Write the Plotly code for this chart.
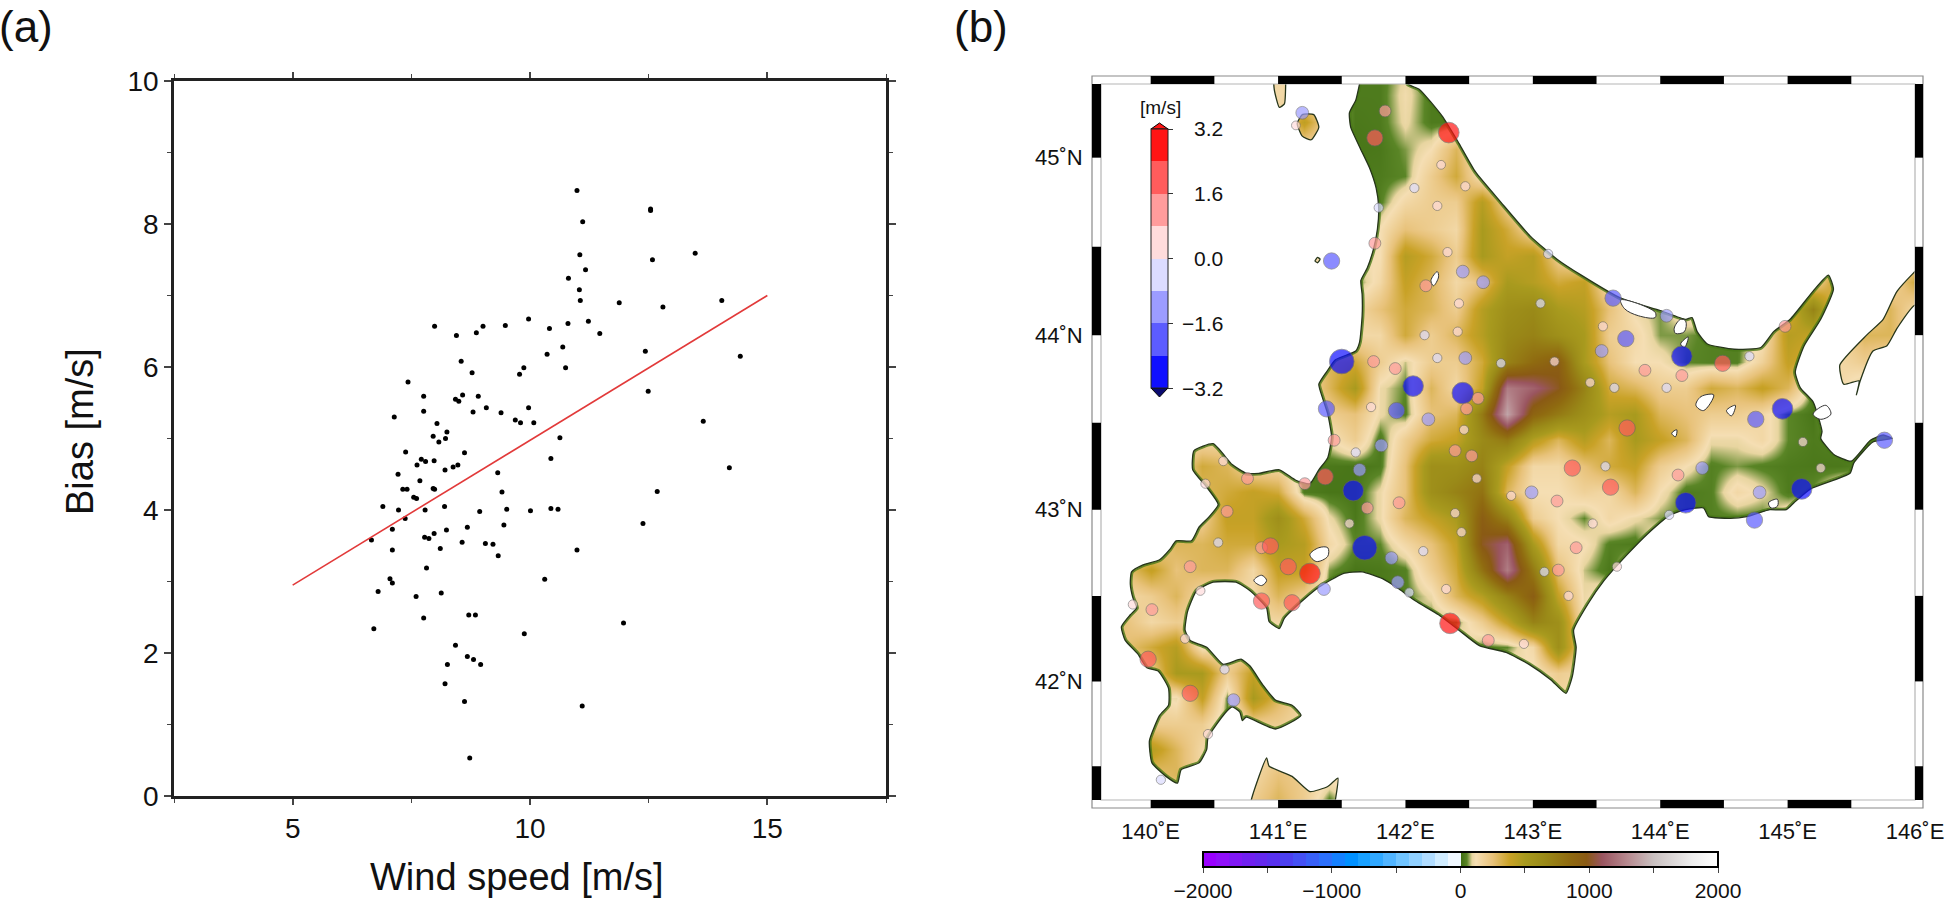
import math
import plotly.graph_objects as go

W, H = 1946, 903
O = 150

# ---------- panel (a)
WIND = [10.99,12.54,12.54,11.11,11.05,12.58,13.48,11.17,10.81,11.04,11.06,11.88,12.80,14.04,9.97,9.48,9.01,7.99,11.23,10.80,10.41,8.87,8.45,11.47,10.69,12.43,10.36,14.43,8.55,9.87,10.75,8.78,9.78,7.43,12.49,7.76,8.58,8.91,8.43,8.50,9.08,9.97,7.76,8.80,9.39,7.14,9.69,9.80,10.08,13.65,8.04,8.25,7.96,8.22,8.08,10.63,7.38,8.62,10.44,7.71,7.80,7.98,7.62,8.48,8.38,8.21,14.20,7.22,9.32,7.68,7.96,7.99,7.32,7.41,9.41,12.68,7.55,7.61,6.90,8.20,7.23,7.79,8.94,9.51,10.01,10.44,10.59,7.37,9.45,12.38,8.68,7.10,8.24,7.98,7.78,7.87,6.66,8.57,9.06,9.22,8.11,7.10,10.99,9.33,7.82,7.05,10.31,7.10,6.80,8.13,7.60,8.71,8.85,7.76,11.97,6.71,9.88,8.43,8.68,8.81,8.96,8.26,8.21,8.62,11.10,8.73]
BIAS = [8.47,8.19,8.21,8.03,7.57,7.50,7.59,7.36,7.24,7.08,6.93,6.90,6.84,6.93,6.67,6.58,6.57,6.57,6.64,6.61,6.54,6.48,6.44,6.47,6.28,6.22,6.18,6.15,6.08,5.99,5.99,5.92,5.90,5.79,5.66,5.59,5.61,5.59,5.55,5.52,5.43,5.43,5.38,5.37,5.36,5.30,5.26,5.22,5.22,5.24,5.21,5.09,5.03,5.00,4.95,5.01,4.81,4.80,4.72,4.71,4.68,4.69,4.63,4.63,4.60,4.56,4.59,4.50,4.52,4.41,4.30,4.29,4.29,4.29,4.25,4.26,4.18,4.16,4.05,4.05,4.00,4.00,3.98,4.01,3.99,4.02,4.01,3.88,3.79,3.81,3.76,3.73,3.72,3.67,3.62,3.60,3.58,3.55,3.53,3.52,3.46,3.44,3.44,3.36,3.19,3.04,3.03,2.98,2.86,2.84,2.79,2.53,2.53,2.49,2.42,2.34,2.27,2.11,1.95,1.91,1.84,1.84,1.57,1.32,1.26,0.53]
FIT_X = [5, 15]
FIT_Y = [2.95, 7.0]

# ---------- panel (b) stations
ST_LON = [141.84,141.76,142.34,141.19,141.14,142.28,142.07,142.47,141.79,142.25,141.76,142.33,141.42,142.45,142.16,142.61,142.42,142.15,142.41,142.25,142.47,142.75,141.50,141.75,141.92,142.06,142.45,142.57,142.48,141.38,141.73,141.93,142.18,142.46,141.44,
141.81,141.61,141.64,141.37,141.21,141.59,140.76,140.57,140.43,140.60,141.70,141.56,141.95,142.39,142.52,142.56,142.83,142.39,142.44,140.53,140.87,140.94,141.68,141.89,142.14,140.31,141.08,141.25,141.36,141.94,142.03,142.32,140.39,139.86,140.01,140.87,141.11,142.35,142.65,142.93,140.27,139.98,140.58,140.31,140.65,140.45,140.08,
143.74,143.31,143.57,143.61,142.99,143.19,143.47,143.34,143.09,143.20,143.66,143.28,144.14,144.33,144.20,144.07,144.78,144.74,145.11,145.12,145.26,145.76,
143.12,143.06,143.63,144.05,143.55,143.73,143.54,143.17,143.45,143.64,143.88,144.17,144.17,144.05,144.49,144.70,144.98,144.96,144.75]
ST_LAT = [45.26,45.11,45.14,45.25,45.18,44.96,44.83,44.84,44.72,44.73,44.52,44.47,44.42,44.36,44.28,44.30,44.18,44.00,44.02,43.87,43.87,43.84,43.85,43.85,43.81,43.71,43.67,43.64,43.58,43.58,43.59,43.57,43.52,43.46,43.40,
43.37,43.33,43.23,43.19,43.15,43.11,43.18,43.28,43.15,42.99,43.01,42.92,43.04,43.34,43.31,43.18,43.08,42.98,42.87,42.81,42.78,42.79,42.78,42.72,42.76,42.67,42.67,42.63,42.54,42.58,42.52,42.54,42.53,42.45,42.42,42.47,42.46,42.34,42.24,42.22,42.25,42.13,42.07,41.93,41.89,41.69,41.42,
43.47,43.24,43.25,43.13,43.10,43.05,42.92,42.78,42.64,42.65,42.67,42.50,43.20,43.24,43.04,42.97,43.10,42.94,43.12,43.39,43.24,43.40,
44.46,44.18,44.21,44.11,44.05,43.98,43.91,43.85,43.73,43.70,43.80,43.88,43.77,43.70,43.84,43.88,44.05,43.58,43.52]
ST_VAL = [1.0,2.0,3.0,-1.2,0.3,0.3,-0.4,0.4,-0.4,0.4,1.0,0.4,-2.0,-1.2,1.0,-1.2,0.4,-0.4,0.4,-0.4,-1.2,-0.4,-3.9,1.0,1.0,-3.0,-3.2,1.0,1.0,-2.0,0.4,-2.0,-1.2,0.4,1.0,
-1.2,-0.4,-1.2,2.0,1.0,-3.0,1.0,0.4,0.4,1.0,1.0,0.4,1.0,1.0,1.0,0.4,0.4,0.4,0.4,-0.4,1.0,2.0,-3.9,-1.2,-0.4,1.0,2.0,3.0,-1.2,-1.2,-0.4,0.4,0.4,0.4,1.0,2.0,2.0,3.0,1.0,0.4,0.4,2.0,-0.4,2.0,-1.2,0.4,-0.4,
2.0,2.0,-0.4,2.0,-1.2,1.0,0.4,1.0,-0.4,1.0,0.4,0.4,1.0,-1.2,-3.0,-0.4,-1.2,-2.0,-3.0,0.4,0.4,-2.0,
-0.4,-0.4,-2.0,-1.2,0.4,-2.0,-1.2,0.4,0.4,-0.4,1.0,-3.0,1.0,-0.4,2.0,-0.4,1.0,-3.0,-2.0]
DV_COLORS = ["#0f0fff","#5c5cff","#9c9cff","#dcdcff","#ffdcdc","#ff9c9c","#ff5c5c","#ff1414"]
DV_TICKS = [-3.2,-1.6,0,1.6,3.2]
DV_LABELS = ["\u22123.2","\u22121.6","0.0","1.6","3.2"]

# ---------- elevation grid (m), read from the shaded relief
GRID_LON = [139.6,139.8,140.0,140.2,140.4,140.6,140.8,141.0,141.2,141.4,141.6,141.8,142.0,142.2,142.4,142.6,142.8,143.0,143.2,143.4,143.6,143.8,144.0,144.2,144.4,144.6,144.8,145.0,145.2,145.4,145.6,145.8,146.0]
GRID_LAT = [45.5,45.35,45.2,45.05,44.9,44.75,44.6,44.45,44.3,44.15,44.0,43.85,43.7,43.55,43.4,43.25,43.1,42.95,42.8,42.65,42.5,42.35,42.2,42.05,41.9,41.75,41.6,41.45,41.3]
ELEV = [
[O,O,O,O,O,O,O,O,O,O,30,30,90,30,30,O,O,O,O,O,O,O,O,O,O,O,O,O,O,O,O,O,O],
[O,O,O,O,O,O,O,O,O,O,30,30,110,30,30,O,O,O,O,O,O,O,O,O,O,O,O,O,O,O,O,O,O],
[O,O,O,O,O,O,O,O,420,O,25,30,100,30,30,O,O,O,O,O,O,O,O,O,O,O,O,O,O,O,O,O,O],
[O,O,O,O,O,O,O,O,O,O,20,25,60,120,300,80,O,O,O,O,O,O,O,O,O,O,O,O,O,O,O,O,O],
[O,O,O,O,O,O,O,O,O,O,30,30,50,200,350,100,40,O,O,O,O,O,O,O,O,O,O,O,O,O,O,O,O],
[O,O,O,O,O,O,O,O,O,O,40,40,150,200,200,450,180,60,O,O,O,O,O,O,O,O,O,O,O,O,O,O,O],
[O,O,O,O,O,O,O,O,O,O,100,120,250,200,150,500,350,150,60,O,O,O,O,O,O,O,O,O,O,O,O,O,O],
[O,O,O,O,O,O,O,O,O,O,120,120,450,350,200,500,400,450,200,80,O,O,O,O,O,O,O,O,O,O,O,O,O],
[O,O,O,O,O,O,O,O,O,O,40,150,400,300,150,250,500,450,350,400,120,50,O,O,O,O,O,O,O,450,O,O,350],
[O,O,O,O,O,O,O,O,O,O,150,250,350,300,200,450,600,650,500,450,250,100,60,O,O,O,O,300,700,O,O,300,O],
[O,O,O,O,O,O,O,O,O,O,150,150,350,200,300,450,650,700,600,500,200,150,60,60,40,40,100,450,400,O,300,300,O],
[O,O,O,O,O,O,O,O,O,300,350,200,80,200,200,350,700,850,950,500,250,120,120,50,40,40,180,400,300,O,200,O,O],
[O,O,O,O,O,O,O,O,O,300,500,100,50,300,150,400,1250,1150,1000,700,350,300,200,200,350,300,400,300,40,O,40,O,O],
[O,O,O,O,O,O,O,O,O,200,250,100,40,250,300,750,1400,900,750,600,450,500,300,250,200,200,150,50,20,O,O,O,O],
[O,O,O,O,O,O,O,O,O,100,200,25,200,350,400,650,750,450,300,450,300,500,400,300,100,100,150,50,30,40,30,30,O],
[O,O,O,O,350,300,O,O,40,25,20,30,250,600,600,700,400,150,150,250,350,400,200,120,40,60,40,30,25,25,40,O,O],
[O,O,O,O,300,350,400,350,30,20,20,100,250,600,700,800,300,120,120,180,150,300,120,30,40,150,100,30,60,O,O,O,O],
[O,O,O,O,200,400,400,600,350,100,25,100,300,400,500,950,700,200,120,50,150,100,60,40,40,40,40,O,O,O,O,O,O],
[O,O,O,300,300,350,350,500,450,150,50,50,150,250,400,1000,1150,500,150,130,40,30,O,O,O,O,O,O,O,O,O,O,O],
[O,250,400,250,300,300,150,400,400,60,20,25,40,200,350,800,1250,750,250,80,25,O,O,O,O,O,O,O,O,O,O,O,O],
[O,150,200,300,150,O,O,300,200,30,30,30,40,100,300,450,700,950,400,100,O,O,O,O,O,O,O,O,O,O,O,O,O],
[O,250,150,200,O,O,O,O,O,O,O,O,O,40,50,200,400,700,600,100,O,O,O,O,O,O,O,O,O,O,O,O,O],
[O,250,350,450,100,O,O,O,O,O,O,O,O,O,O,40,50,150,600,150,O,O,O,O,O,O,O,O,O,O,O,O,O],
[O,O,200,500,500,200,400,O,O,O,O,O,O,O,O,O,O,100,200,O,O,O,O,O,O,O,O,O,O,O,O,O,O],
[O,O,O,100,400,50,500,300,O,O,O,O,O,O,O,O,O,O,O,O,O,O,O,O,O,O,O,O,O,O,O,O,O],
[O,O,200,200,200,40,200,200,O,O,O,O,O,O,O,O,O,O,O,O,O,O,O,O,O,O,O,O,O,O,O,O,O],
[O,O,450,300,150,O,O,O,O,O,O,O,O,O,O,O,O,O,O,O,O,O,O,O,O,O,O,O,O,O,O,O,O],
[O,O,250,300,O,O,O,250,200,O,O,O,O,O,O,O,O,O,O,O,O,O,O,O,O,O,O,O,O,O,O,O,O],
[O,O,O,O,O,O,200,300,200,40,O,O,O,O,O,O,O,O,O,O,O,O,O,O,O,O,O,O,O,O,O,O,O],
]
ELEV_TICKS = [-2000,-1500,-1000,-500,0,500,1000,1500,2000]
ELEV_LABELS = ["\u22122000","","\u22121000","","0","","1000","","2000"]
NEG_COLORS = ["#9a00ff","#9010fa","#8018f5","#7020f0","#6428ee","#5830ee","#4c40f0","#4450f4","#3860f8","#2c70fc","#1480ff","#0090ff","#18a0ff","#30a8ff","#50b4ff","#70c4ff","#90d0ff","#b0dcff","#d0ecff","#f0f8ff"]
POS_STOPS = [(0,"#3d6b0f"),(50,"#5a8526"),(90,"#e8d5a0"),(120,"#f5deb3"),(250,"#e8c27a"),(380,"#c9a227"),(500,"#a89a1e"),(650,"#9a8a18"),(850,"#8f6a10"),(980,"#8a5a14"),(1100,"#9a5560"),(1300,"#b78a90"),(1500,"#c9c0c0"),(1800,"#eeeeee"),(2000,"#ffffff")]

# ---------- coast and lakes (lon, lat)
HOKKAIDO = [(141.64,45.41),(141.61,45.32),(141.56,45.25),(141.57,45.17),(141.64,45.06),(141.72,44.94),(141.77,44.83),(141.79,44.72),(141.78,44.60),(141.75,44.49),(141.70,44.38),(141.65,44.31),(141.66,44.23),(141.66,44.11),(141.64,43.96),(141.61,43.91),(141.45,43.86),(141.38,43.79),(141.32,43.72),(141.35,43.64),(141.39,43.55),(141.42,43.42),(141.39,43.30),(141.32,43.23),(141.25,43.15),(141.14,43.17),(141.01,43.23),(140.85,43.21),(140.75,43.21),(140.64,43.26),(140.49,43.38),(140.34,43.34),(140.33,43.23),(140.44,43.13),(140.53,43.03),(140.46,42.96),(140.38,42.90),(140.32,42.82),(140.20,42.82),(140.15,42.77),(140.07,42.71),(139.94,42.68),(139.85,42.64),(139.84,42.57),(139.86,42.49),(139.89,42.43),(139.84,42.39),(139.77,42.32),(139.80,42.24),(139.90,42.16),(139.97,42.08),(140.06,42.06),(140.14,41.96),(140.14,41.86),(140.07,41.80),(139.99,41.65),(140.01,41.52),(140.12,41.44),(140.21,41.40),(140.24,41.48),(140.38,41.52),(140.44,41.60),(140.45,41.67),(140.58,41.81),(140.64,41.85),(140.70,41.82),(140.72,41.77),(140.75,41.79),(140.98,41.72),(141.18,41.80),(141.11,41.86),(140.98,41.89),(140.88,41.98),(140.78,42.09),(140.71,42.13),(140.57,42.10),(140.44,42.20),(140.31,42.24),(140.27,42.30),(140.29,42.41),(140.36,42.53),(140.49,42.58),(140.67,42.58),(140.78,42.53),(140.91,42.43),(140.93,42.35),(141.01,42.31),(141.05,42.37),(141.22,42.49),(141.32,42.55),(141.51,42.63),(141.66,42.64),(141.82,42.60),(141.95,42.54),(142.08,42.47),(142.26,42.39),(142.42,42.30),(142.58,42.21),(142.79,42.17),(142.97,42.10),(143.14,42.01),(143.26,41.93),(143.31,42.03),(143.34,42.20),(143.32,42.30),(143.43,42.45),(143.56,42.59),(143.74,42.74),(143.90,42.86),(144.08,42.97),(144.20,43.00),(144.34,43.01),(144.38,42.96),(144.55,42.95),(144.68,42.96),(144.81,42.99),(144.86,43.00),(144.99,43.00),(145.05,43.04),(145.18,43.12),(145.49,43.21),(145.52,43.27),(145.67,43.39),(145.82,43.41),(145.75,43.43),(145.65,43.40),(145.50,43.28),(145.36,43.32),(145.26,43.41),(145.27,43.45),(145.20,43.62),(145.10,43.70),(145.06,43.79),(145.13,43.94),(145.26,44.09),(145.36,44.26),(145.32,44.34),(145.20,44.25),(145.02,44.09),(144.89,44.02),(144.79,43.93),(144.58,43.92),(144.37,43.95),(144.29,44.02),(144.25,44.10),(144.20,44.09),(144.00,44.14),(143.69,44.21),(143.38,44.34),(143.19,44.43),(142.98,44.56),(142.75,44.75),(142.55,44.92),(142.42,45.08),(142.29,45.23),(142.11,45.38),(142.02,45.41),(141.94,45.55),(141.70,45.55)]
REBUN = [(140.97,45.5),(140.97,45.38),(141.01,45.28),(141.05,45.30),(141.06,45.42),(141.06,45.5)]
RISHIRI = [(141.15,45.19),(141.19,45.12),(141.26,45.10),(141.32,45.17),(141.28,45.24),(141.19,45.24)]
TEURI = [(141.29,44.42),(141.31,44.41),(141.33,44.43),(141.31,44.44)]
KUNASHIRI = [(146.1,44.42),(145.86,44.25),(145.75,44.09),(145.62,44.00),(145.41,43.83),(145.44,43.72),(145.56,43.74),(145.54,43.66),(145.57,43.74),(145.67,43.91),(145.78,43.94),(145.86,44.04),(146.0,44.17),(146.1,44.12)]
HONSHU = [(140.91,41.55),(140.79,41.30),(140.78,41.2),(141.43,41.2),(141.45,41.30),(141.47,41.43),(141.39,41.38),(141.25,41.35),(141.11,41.44),(140.93,41.50)]
ISLANDS = [HOKKAIDO, REBUN, RISHIRI, TEURI, KUNASHIRI, HONSHU]
LAKES = [
[(141.25,42.74),(141.32,42.78),(141.39,42.78),(141.39,42.73),(141.30,42.70)],
[(140.81,42.59),(140.87,42.62),(140.91,42.59),(140.87,42.56)],
[(144.28,43.60),(144.32,43.65),(144.42,43.66),(144.34,43.57)],
[(144.52,43.57),(144.59,43.60),(144.56,43.54)],
[(144.09,43.44),(144.13,43.46),(144.12,43.42)],
[(144.11,44.04),(144.16,44.09),(144.20,44.08),(144.19,44.02),(144.12,44.01)],
[(144.16,43.95),(144.22,43.99),(144.19,43.93)],
[(143.69,44.20),(143.96,44.13),(143.96,44.10),(143.83,44.11),(143.72,44.15)],
[(145.20,43.55),(145.30,43.60),(145.34,43.55),(145.26,43.52)],
[(142.20,44.31),(142.25,44.36),(142.26,44.33),(142.22,44.28)],
[(144.85,43.04),(144.92,43.06),(144.92,43.02),(144.87,43.01)],
]
LON_TICKS = [140,141,142,143,144,145,146]
LAT_TICKS = [42,43,44,45]


def merc(lat):
    return math.asinh(math.tan(math.radians(lat)))


def px(x):
    return x / W


def py(y):
    return 1 - y / H


def rings(polys, close=True):
    xs, ys = [], []
    for poly in polys:
        xs += [p[0] for p in poly] + ([poly[0][0]] if close else []) + [None]
        ys += [merc(p[1]) for p in poly] + ([merc(poly[0][1])] if close else []) + [None]
    return xs, ys


LON_MIN, LON_MAX, LAT_MIN, LAT_MAX = 139.61, 146.0, 41.30, 45.41

cs = []
for i, c in enumerate(NEG_COLORS):
    cs += [[i * 0.025, c], [(i + 1) * 0.025, c]]
for z, c in POS_STOPS:
    cs.append([(z + 2000) / 4000, c])

dv_cs = []
for i, c in enumerate(DV_COLORS):
    dv_cs += [[i / 8, c], [(i + 1) / 8, c]]

fig = go.Figure()
TXT = "#111111"
FONT = "Liberation Sans, Arial, sans-serif"

fig.add_trace(go.Scatter(x=WIND, y=BIAS, mode="markers", marker=dict(size=5, color="black"), xaxis="x", yaxis="y", showlegend=False))
fig.add_trace(go.Scatter(x=FIT_X, y=FIT_Y, mode="lines", line=dict(color="#e23a3a", width=1.6), xaxis="x", yaxis="y", showlegend=False))

fig.add_trace(go.Heatmap(
    x=GRID_LON, y=[merc(a) for a in GRID_LAT], z=ELEV, zmin=-2000, zmax=2000, colorscale=cs, zsmooth="best",
    xaxis="x2", yaxis="y2", hoverinfo="skip",
    colorbar=dict(orientation="h", x=px((1203 + 1718) / 2), xanchor="center", xpad=0,
                  y=py(852), yanchor="top", ypad=0, len=515, lenmode="pixels", thickness=15, thicknessmode="pixels",
                  tickmode="array", tickvals=ELEV_TICKS, ticktext=ELEV_LABELS, ticks="outside", ticklen=5, tickwidth=1,
                  tickcolor="#444", outlinecolor="black", outlinewidth=2, tickfont=dict(size=21, color=TXT, family=FONT)),
))

lx, ly = rings(ISLANDS)
# green coastal fringe: half of this wide line is hidden by the white sea drawn next
hx, hy = rings([HOKKAIDO])
fig.add_trace(go.Scatter(x=hx, y=hy, mode="lines", line=dict(color="#4a7a18", width=4.5, shape="spline", smoothing=0.5), opacity=0.8, xaxis="x2", yaxis="y2", showlegend=False, hoverinfo="skip"))
# white sea: a rectangle with the land left open
sx = [139.4, 146.2, 146.2, 139.4, 139.4, None] + lx
sy = [merc(45.7), merc(45.7), merc(41.1), merc(41.1), merc(45.7), None] + ly
fig.add_trace(go.Scatter(x=sx, y=sy, mode="lines", fill="toself", fillcolor="white", line=dict(width=0, shape="spline", smoothing=0.5), xaxis="x2", yaxis="y2", showlegend=False, hoverinfo="skip"))
fig.add_trace(go.Scatter(x=lx, y=ly, mode="lines", line=dict(color="#26351a", width=1.3, shape="spline", smoothing=0.5), xaxis="x2", yaxis="y2", showlegend=False, hoverinfo="skip"))
kx, ky = rings(LAKES)
fig.add_trace(go.Scatter(x=kx, y=ky, mode="lines", fill="toself", fillcolor="white", line=dict(color="#333", width=1, shape="spline"), xaxis="x2", yaxis="y2", showlegend=False, hoverinfo="skip"))

fig.add_trace(go.Scatter(
    x=ST_LON, y=[merc(a) for a in ST_LAT], mode="markers", xaxis="x2", yaxis="y2", showlegend=False,
    marker=dict(size=[7.5 + 4.4 * abs(v) for v in ST_VAL], color=ST_VAL, cmin=-3.2, cmax=3.2, colorscale=dv_cs,
                line=dict(color="#666", width=0.8),
                colorbar=dict(x=px(1151), xanchor="left", xpad=0, y=py(258.5), yanchor="middle", ypad=0, len=259, lenmode="pixels",
                              thickness=17, thicknessmode="pixels", tickmode="array", tickvals=DV_TICKS, ticktext=[""] * 5,
                              ticks="outside", ticklen=5, tickcolor="#333", outlinecolor="#222", outlinewidth=1)),
))

shapes = []


def rect(xref, yref, x0, x1, y0, y1, fill="black", line=None):
    shapes.append(dict(type="rect", xref=xref, yref=yref, x0=x0, x1=x1, y0=y0, y1=y1, fillcolor=fill,
                       line=dict(width=0 if line is None else 1.2, color=line or "black"), layer="above"))


rect("paper", "paper", px(1092), px(1923), py(808), py(76), "rgba(0,0,0,0)", "#8a8a8a")
rect("paper", "paper", px(1101), px(1915), py(800), py(84), "rgba(0,0,0,0)", "#b5b5b5")
for lon in [140, 141, 142, 143, 144, 145]:
    rect("x2", "paper", lon, lon + 0.5, py(84), py(76))
    rect("x2", "paper", lon, lon + 0.5, py(808), py(800))
for a, b in [(45, LAT_MAX), (44, 44.5), (43, 43.5), (42, 42.5), (LAT_MIN, 41.5)]:
    rect("paper", "y2", px(1092), px(1101), merc(a), merc(b))
    rect("paper", "y2", px(1915), px(1923), merc(a), merc(b))


def tri(x0, x1, xm, ybase, ytip, color):
    shapes.append(dict(type="path", xref="paper", yref="paper", layer="above",
                       path=f"M {px(x0)} {py(ybase)} L {px(x1)} {py(ybase)} L {px(xm)} {py(ytip)} Z",
                       fillcolor=color, line=dict(color="black", width=1)))


tri(1151, 1168, 1159.5, 129, 123, "#ff1414")
tri(1151, 1168, 1159.5, 388, 397, "#0a0a70")

ann = [
    dict(text="(a)", x=px(-3), y=py(27), xanchor="left", yanchor="middle", font=dict(size=44, color=TXT, family=FONT)),
    dict(text="(b)", x=px(952), y=py(27), xanchor="left", yanchor="middle", font=dict(size=44, color=TXT, family=FONT)),
    dict(text="[m/s]", x=px(1160), y=py(107), xanchor="center", yanchor="middle", font=dict(size=19, color=TXT, family=FONT)),
    dict(text="Wind speed [m/s]", x=px(517), y=py(877), xanchor="center", yanchor="middle", font=dict(size=38, color=TXT, family=FONT)),
    dict(text="Bias [m/s]", x=px(80), y=py(432), xanchor="center", yanchor="middle", textangle=-90, font=dict(size=38, color=TXT, family=FONT)),
]
for t, lab in zip(DV_TICKS, DV_LABELS):
    ann.append(dict(text=lab, x=px(1225), y=py(258.5 - t / 3.2 * 129.5), xanchor="right", yanchor="middle",
                    font=dict(size=21, color=TXT, family=FONT)))
for a in ann:
    a.update(xref="paper", yref="paper", showarrow=False)

fig.update_layout(
    width=W, height=H, margin=dict(l=0, r=0, t=0, b=0, autoexpand=False), paper_bgcolor="white", plot_bgcolor="white",
    showlegend=False, shapes=shapes, annotations=ann, font=dict(family=FONT, color=TXT),
    xaxis=dict(domain=[px(174), px(886)], range=[2.5, 17.5], tickvals=[5, 10, 15], ticks="outside", ticklen=6, tickwidth=1.5,
               showline=True, linewidth=2.5, linecolor="#222", mirror="ticks", showgrid=False, zeroline=False,
               minor=dict(tickvals=[2.5, 7.5, 12.5, 17.5], ticks="outside", ticklen=4, tickwidth=1),
               tickfont=dict(size=28)),
    yaxis=dict(domain=[py(796), py(81)], range=[0, 10], tickvals=[0, 2, 4, 6, 8, 10], ticks="outside", ticklen=7, tickwidth=1.5,
               showline=True, linewidth=2.5, linecolor="#222", mirror="ticks", showgrid=False, zeroline=False,
               minor=dict(tickvals=[1, 3, 5, 7, 9], ticks="outside", ticklen=4, tickwidth=1),
               tickfont=dict(size=28)),
    xaxis2=dict(domain=[px(1101), px(1915)], range=[LON_MIN, LON_MAX], anchor="y2", tickvals=LON_TICKS,
                ticktext=[f"{v}\u02daE" for v in LON_TICKS], ticks="outside", ticklen=12, tickcolor="rgba(0,0,0,0)",
                showgrid=False, zeroline=False, showline=False, tickfont=dict(size=22)),
    yaxis2=dict(domain=[py(800), py(84)], range=[merc(LAT_MIN), merc(LAT_MAX)], anchor="x2", tickvals=[merc(v) for v in LAT_TICKS],
                ticktext=[f"{v}\u02daN" for v in LAT_TICKS], ticks="outside", ticklen=13, tickcolor="rgba(0,0,0,0)",
                showgrid=False, zeroline=False, showline=False, tickfont=dict(size=22)),
)

fig.write_html("out.html", post_script="document.body.style.margin='0';", config=dict(displayModeBar=False))
